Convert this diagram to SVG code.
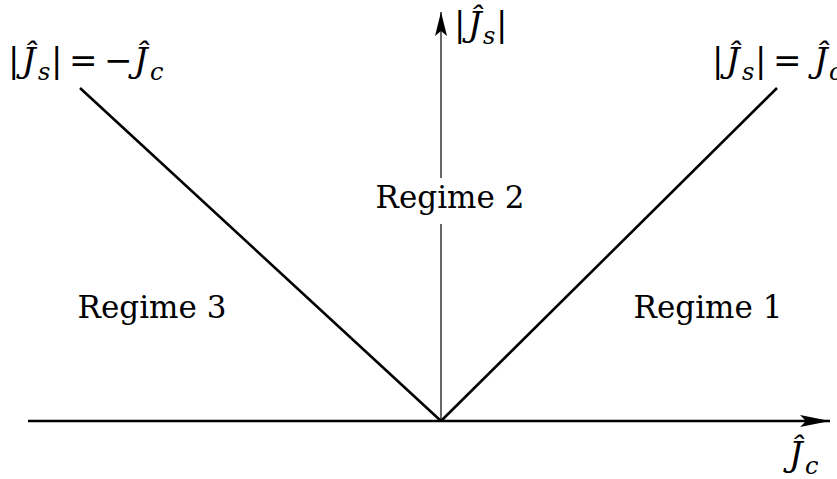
<svg xmlns="http://www.w3.org/2000/svg" width="837" height="479" viewBox="0 0 837 479">
<style>
.lbl{font-family:"DejaVu Serif",serif;font-size:31px;fill:#000}
.m{font-family:"DejaVu Serif",serif;font-size:34px;fill:#000;font-weight:normal}
.i{font-style:italic}
.sub{font-size:24px;font-style:italic}
.ln{stroke:#000;fill:none;stroke-width:2.6}
.ax{stroke:#000;fill:none;stroke-width:1.2}
</style>
<defs>
<marker id="ah" viewBox="0 0 30 12" refX="30" refY="6" markerWidth="30" markerHeight="12" markerUnits="userSpaceOnUse" orient="auto">
<path d="M0,0 L30,6 L0,12 L6,6 Z" fill="#000"/>
</marker>
<marker id="av" viewBox="0 0 24 12" refX="24" refY="6" markerWidth="24" markerHeight="12" markerUnits="userSpaceOnUse" orient="auto">
<path d="M0,0 L24,6 L0,12 L5,6 Z" fill="#000"/>
</marker>
</defs>
<g id="connectors">
<line class="ax" x1="441" y1="421" x2="441" y2="12" marker-end="url(#av)"/>
<line class="ln" x1="28" y1="421" x2="830" y2="421" marker-end="url(#ah)"/>
<line class="ln" x1="80" y1="88" x2="441" y2="421"/>
<line class="ln" x1="777" y1="88" x2="441" y2="421"/>
</g>
<g id="regime2">
<rect x="370" y="178" width="160" height="46" fill="#fff"/>
<text class="lbl" x="450" y="208" text-anchor="middle">Regime 2</text>
</g>
<g id="regime3"><text class="lbl" x="152" y="318" text-anchor="middle">Regime 3</text></g>
<g id="regime1"><text class="lbl" x="708" y="318" text-anchor="middle">Regime 1</text></g>
<g id="label-left"><text class="m" y="72"><tspan x="8">|</tspan><tspan class="i" x="22">Ĵ</tspan><tspan class="sub" x="38" y="80">s</tspan><tspan x="51" y="72">|</tspan><tspan x="69">=</tspan><tspan x="104">−</tspan><tspan class="i" x="134">Ĵ</tspan><tspan class="sub" x="150" y="80">c</tspan></text></g>
<g id="label-right"><text class="m" y="72"><tspan x="712">|</tspan><tspan class="i" x="726">Ĵ</tspan><tspan class="sub" x="742" y="80">s</tspan><tspan x="755" y="72">|</tspan><tspan x="773">=</tspan><tspan class="i" x="814">Ĵ</tspan><tspan class="sub" x="829" y="80">c</tspan></text></g>
<g id="label-y"><text class="m" y="36"><tspan x="454">|</tspan><tspan class="i" x="468">Ĵ</tspan><tspan class="sub" x="483" y="44">s</tspan><tspan x="496" y="36">|</tspan></text></g>
<g id="label-x"><text class="m" y="466"><tspan class="i" x="789">Ĵ</tspan><tspan class="sub" x="805" y="474">c</tspan></text></g>
</svg>
